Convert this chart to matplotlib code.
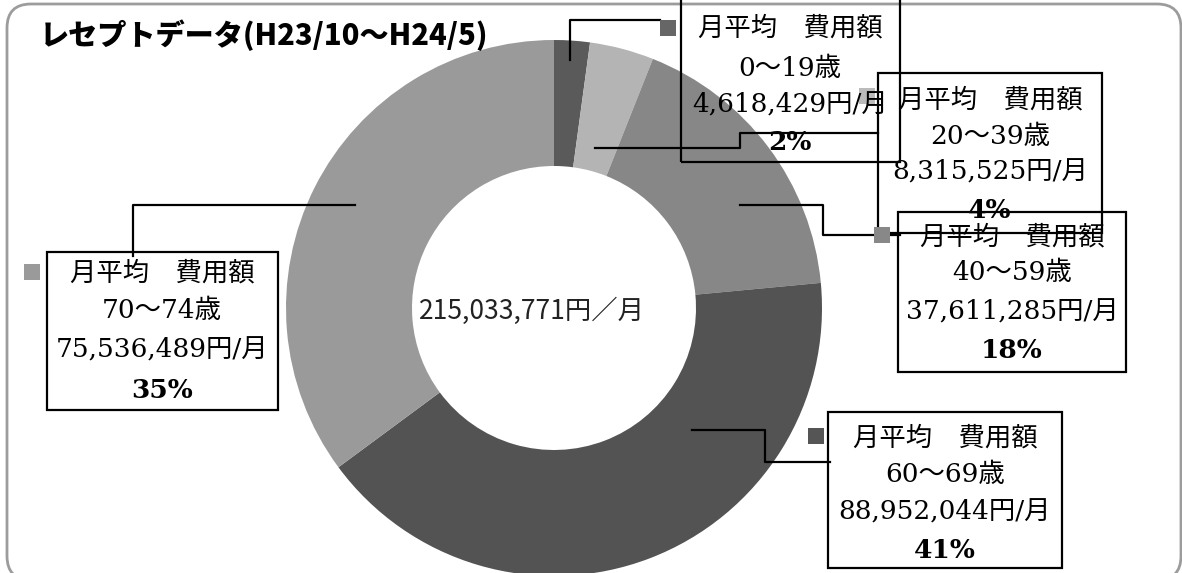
import matplotlib.pyplot as plt
from matplotlib.patches import Rectangle, FancyBboxPatch

# monthly average cost per age group (receipt data H23/10 - H24/5)
age_groups = ['0～19歳', '20～39歳', '40～59歳', '60～69歳', '70～74歳']
monthly_cost = [4618429, 8315525, 37611285, 88952044, 75536489]
share_pct = [2, 4, 18, 41, 35]
total_monthly = 215033771
slice_colors = ['#5a5a5a', '#b4b4b4', '#878787', '#535353', '#9a9a9a']
marker_colors = ['#666666', '#bbbbbb', '#888888', '#555555', '#9a9a9a']

W, H = 1182, 573


def py(y):
    # rows counted from the top -> data y
    return H - y


# label boxes: (left, top, right, bottom), text centre x, line rows, marker, leader path
labels = [
    dict(box=(681, -5, 900, 162), cx=790, rows=(28, 68, 105, 143), mark=(668, 28),
         leader=[(570, 60), (570, 20), (660, 20)]),
    dict(box=(878, 73, 1102, 233), cx=990, rows=(100, 137, 172, 210), mark=(867, 96),
         leader=[(595, 148), (740, 148), (740, 133), (878, 133)]),
    dict(box=(898, 212, 1126, 372), cx=1012, rows=(237, 273, 312, 350), mark=(882, 235),
         leader=[(740, 205), (823, 205), (823, 235), (900, 235)]),
    dict(box=(828, 412, 1062, 568), cx=945, rows=(438, 474, 512, 550), mark=(816, 436),
         leader=[(692, 430), (765, 430), (765, 462), (830, 462)]),
    dict(box=(47, 252, 278, 410), cx=162, rows=(273, 310, 350, 390), mark=(32, 272),
         leader=[(355, 205), (133, 205), (133, 256)]),
]

JP_SERIF = ['DejaVu Serif', 'Noto Sans CJK JP']
JP_SANS = ['Noto Sans CJK JP']

fig = plt.figure(figsize=(W / 100, H / 100), dpi=100)
ax = fig.add_axes([0, 0, 1, 1])

ax.pie(monthly_cost, colors=slice_colors, startangle=90, counterclock=False,
       center=(554, py(308)), radius=268,
       wedgeprops=dict(width=126, linewidth=0))
ax.set_xlim(0, W)
ax.set_ylim(0, H)
ax.set_aspect('equal')
ax.axis('off')

# outer rounded frame (bottom edge runs just past the canvas)
frame = FancyBboxPatch((7, py(580)), 1174, 576, boxstyle='round,pad=0,rounding_size=24',
                       facecolor='none', edgecolor='#9c9c9c', linewidth=2, zorder=1)
ax.add_patch(frame)

ax.text(40, py(35), 'レセプトデータ(H23/10～H24/5)', fontsize=21, fontweight='heavy',
        family=JP_SANS, ha='left', va='center', zorder=5)

ax.text(532, py(311), f'{total_monthly:,}円／月', fontsize=19, family=JP_SANS,
        ha='center', va='center', color='#222222', zorder=5)

for i, lab in enumerate(labels):
    x0, t, x1, b = lab['box']
    ax.add_patch(Rectangle((x0, py(b)), x1 - x0, b - t, facecolor='none',
                           edgecolor='black', linewidth=1.6, zorder=4))
    xs = [p[0] for p in lab['leader']]
    ys = [py(p[1]) for p in lab['leader']]
    ax.plot(xs, ys, color='black', linewidth=1.6, zorder=4)
    mx, my = lab['mark']
    ax.add_patch(Rectangle((mx - 8, py(my) - 8), 16, 16, facecolor=marker_colors[i],
                           edgecolor='none', zorder=4))
    lines = ['月平均　費用額', age_groups[i], f'{monthly_cost[i]:,}円/月', f'{share_pct[i]}%']
    for k, (txt, row) in enumerate(zip(lines, lab['rows'])):
        ax.text(lab['cx'], py(row), txt, fontsize=19, family=JP_SERIF,
                fontweight='bold' if k == 3 else 'normal',
                ha='center', va='center', zorder=5)

fig.savefig('out.png', dpi=100)
